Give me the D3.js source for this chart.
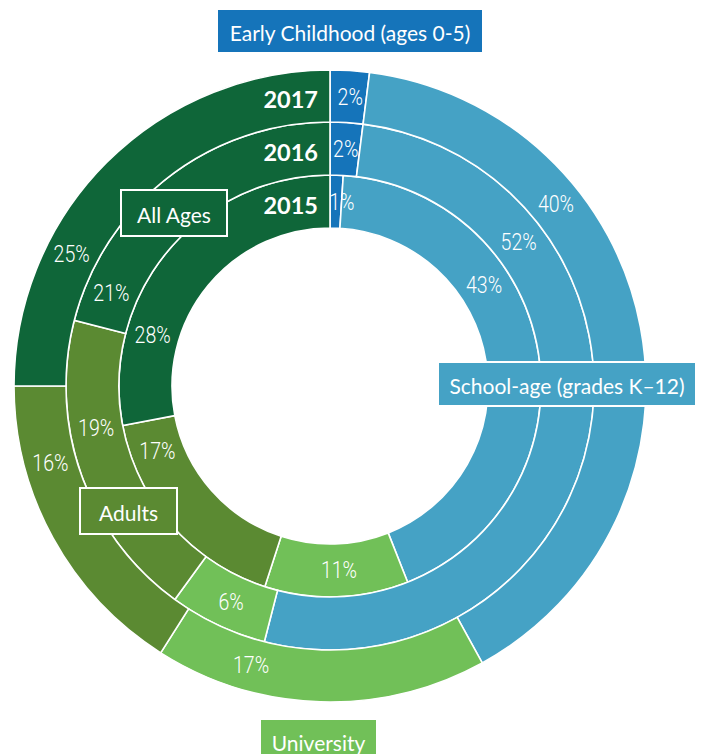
<!DOCTYPE html>
<html>
<head>
<meta charset="utf-8">
<script src="https://cdn.jsdelivr.net/npm/d3@7"></script>
<style>
  html, body { margin: 0; padding: 0; background: #fff; }
  svg { display: block; }
</style>
</head>
<body>
<svg id="chart" width="702" height="754"></svg>
<script>
// ---- data ----
const categories = ["Early Childhood (ages 0-5)", "School-age (grades K–12)", "University", "Adults", "All Ages"];
const years = ["2015", "2016", "2017"];
const values2015 = [1, 43, 11, 17, 28];
const values2016 = [2, 52, 6, 19, 21];
const values2017 = [2, 40, 17, 16, 25];
const colors = ["#1574ba", "#45a2c5", "#71c058", "#5b8a32", "#0f6639"];

// ---- layout (not data) ----
const W = 702, H = 754;
const cx = 330, cy = 386;
const radii = [158, 211, 264, 316]; // ring boundaries, inner -> outer
// label angle (deg, clockwise from top) for each ring / category
const labelAngles = [
  [3.7, 56.6, 177.2, 249.3, 286],
  [3.8, 52.6, 204.6, 259.9, 293],
  [4.0, 51.2, 195.8, 254.6, 297]
];
const boxes = [
  { cat: 0, x: 217, y: 9, w: 266, h: 44 },
  { cat: 1, x: 438, y: 362, w: 258, h: 44 },
  { cat: 2, x: 260, y: 719, w: 117, h: 44 },
  { cat: 3, x: 80, y: 488, w: 97, h: 46 },
  { cat: 4, x: 121, y: 190, w: 106, h: 46 }
];

const svg = d3.select("#chart");
const g = svg.append("g").attr("transform", `translate(${cx},${cy})`);

const series = [values2015, values2016, values2017];
const pie = d3.pie().sort(null).value(d => d);
const toRad = d => d * Math.PI / 180;

series.forEach((vals, ri) => {
  const arcs = pie(vals);
  const arc = d3.arc().innerRadius(radii[ri]).outerRadius(radii[ri + 1]);
  g.append("g").selectAll("path")
    .data(arcs)
    .join("path")
    .attr("d", arc)
    .attr("fill", (d, i) => colors[i])
    .attr("stroke", "#fff")
    .attr("stroke-width", 1.6);
});

// percentage labels
series.forEach((vals, ri) => {
  const rMid = (radii[ri] + radii[ri + 1]) / 2;
  g.append("g").selectAll("text")
    .data(vals)
    .join("text")
    .attr("transform", (d, i) => {
      const a = toRad(labelAngles[ri][i]);
      return `translate(${rMid * Math.sin(a)},${-rMid * Math.cos(a)}) scale(0.85,1)`;
    })
    .attr("text-anchor", "middle")
    .attr("dominant-baseline", "central")
    .attr("fill", "#fff")
    .attr("font-family", "Roboto, 'Noto Sans', sans-serif")
    .attr("font-weight", 300)
    .attr("font-size", 23)
    .text(d => d + "%");
});

// year labels
years.forEach((y, ri) => {
  const rMid = (radii[ri] + radii[ri + 1]) / 2;
  g.append("text")
    .attr("x", -12)
    .attr("y", -rMid + 3)
    .attr("text-anchor", "end")
    .attr("dominant-baseline", "central")
    .attr("fill", "#fff")
    .attr("font-family", "Lato, 'Noto Sans', sans-serif")
    .attr("font-weight", 700)
    .attr("font-size", 23.5)
    .text(y);
});

// category boxes
const bg = svg.append("g");
boxes.forEach(b => {
  bg.append("rect")
    .attr("x", b.x).attr("y", b.y).attr("width", b.w).attr("height", b.h)
    .attr("fill", colors[b.cat])
    .attr("stroke", "#fff")
    .attr("stroke-width", 2);
  bg.append("text")
    .attr("x", b.x + b.w / 2)
    .attr("y", b.y + b.h / 2 + 1)
    .attr("text-anchor", "middle")
    .attr("dominant-baseline", "central")
    .attr("fill", "#fff")
    .attr("font-family", "Lato, 'Noto Sans', sans-serif")
    .attr("font-size", 21)
    .text(categories[b.cat]);
});
</script>
</body>
</html>
